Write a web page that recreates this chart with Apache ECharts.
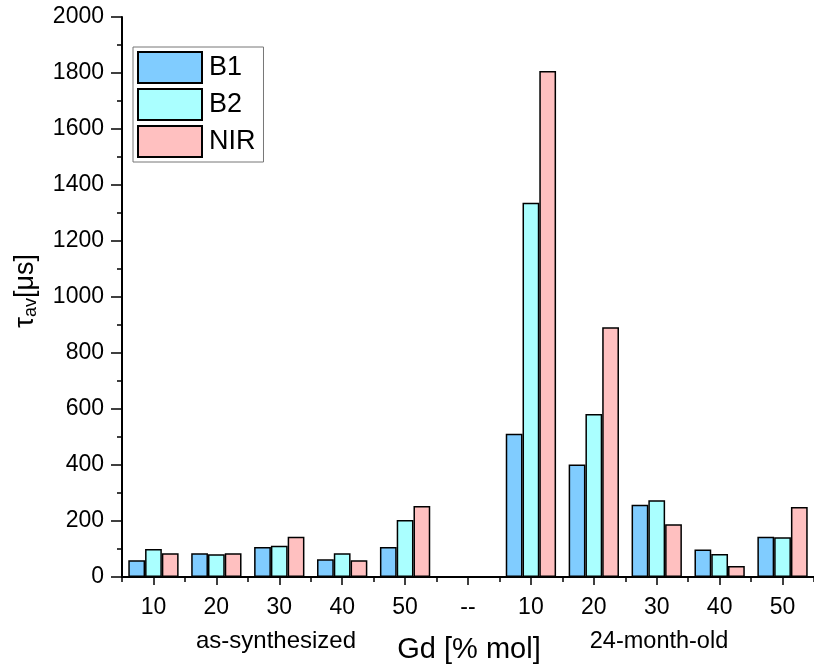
<!DOCTYPE html>
<html>
<head>
<meta charset="utf-8">
<script src="https://cdn.jsdelivr.net/npm/echarts@6/dist/echarts.min.js"></script>
<style>
    html, body {margin: 0; padding: 0; background: #fff;}
    #main {width: 814px; height: 668px;}
</style>
</head>
<body>
<div id="main"></div>
<script>
// 数据
let categories = ['10', '20', '30', '40', '50', '--', '10', '20', '30', '40', '50'];
let b1 = [60, 85, 107, 63, 107, '-', 512, 402, 258, 98, 144];
let b2 = [100, 81, 112, 85, 204, '-', 1337, 582, 274, 82, 142];
let nir = [85, 85, 144, 60, 254, '-', 1807, 892, 188, 39, 250];
let groupLabels = ['as-synthesized', '24-month-old'];

let FONT = 'Arial, "Liberation Sans", sans-serif';

function barSeries(name, data, color) {
    return {
        name: name,
        type: 'bar',
        data: data,
        barGap: '0%',
        barCategoryGap: '20%',
        itemStyle: {
            color: color,
            borderColor: '#000',
            borderWidth: 1.5
        }
    };
}

let myChart = echarts.init(document.getElementById('main'));
let option = {
    animation: false,
    textStyle: {fontFamily: FONT},
    grid: {left: 122, top: 17, width: 694, height: 560, containLabel: false},
    legend: {
        left: 133,
        top: 47,
        orient: 'vertical',
        itemWidth: 64,
        itemHeight: 31,
        itemGap: 4,
        padding: [4, 8, 4, 4],
        borderColor: '#777',
        borderWidth: 1,
        icon: 'rect',
        textStyle: {fontSize: 27, color: '#000', fontFamily: FONT, padding: [0, 0, 0, 2]},
        data: ['B1', 'B2', 'NIR']
    },
    xAxis: [{
        type: 'category',
        data: categories,
        axisLine: {lineStyle: {color: '#000', width: 2}},
        axisTick: {show: true, length: 5, alignWithLabel: false, lineStyle: {color: '#000', width: 1.5}},
        axisLabel: {fontSize: 23, color: '#000', margin: 19, interval: 0, fontFamily: FONT},
        splitLine: {show: false}
    }, {
        type: 'category',
        data: categories,
        position: 'bottom',
        axisLine: {show: false},
        axisTick: {show: true, length: 8, alignWithLabel: true, lineStyle: {color: '#000', width: 1.5}},
        axisLabel: {show: false},
        splitLine: {show: false}
    }],
    yAxis: {
        type: 'value',
        min: 0,
        max: 2000,
        interval: 200,
        axisLine: {show: true, lineStyle: {color: '#000', width: 2}},
        axisTick: {show: true, length: 11, lineStyle: {color: '#000', width: 1.5}},
        minorTick: {show: true, splitNumber: 2, length: 5, lineStyle: {color: '#000', width: 1.5}},
        axisLabel: {
            fontSize: 23, color: '#000', margin: 18, fontFamily: FONT,
            formatter: function (v) {
                return String(v);
            }
        },
        splitLine: {show: false}
    },
    graphic: [{
        type: 'text',
        left: 12,
        top: 254,
        rotation: Math.PI / 2,
        style: {
            text: '{t|τ}{s|av}{t|[μs]}',
            rich: {
                t: {fontSize: 27, fontFamily: FONT, fill: '#000'},
                s: {fontSize: 18, fontFamily: FONT, fill: '#000', padding: [11, 0, 0, 0]}
            }
        }
    }, {
        type: 'text',
        x: 276,
        y: 641,
        style: {text: groupLabels[0], fontSize: 24, fontFamily: FONT, fill: '#000', align: 'center', verticalAlign: 'middle'}
    }, {
        type: 'text',
        x: 469,
        y: 650,
        style: {text: 'Gd [% mol]', fontSize: 29, fontFamily: FONT, fill: '#000', align: 'center', verticalAlign: 'middle'}
    }, {
        type: 'text',
        x: 659,
        y: 642,
        style: {text: groupLabels[1], fontSize: 23.5, fontFamily: FONT, fill: '#000', align: 'center', verticalAlign: 'middle'}
    }],
    series: [
        barSeries('B1', b1, '#80ccff'),
        barSeries('B2', b2, '#aaffff'),
        barSeries('NIR', nir, '#ffc0c0')
    ]
};
myChart.setOption(option);
</script>
</body>
</html>
